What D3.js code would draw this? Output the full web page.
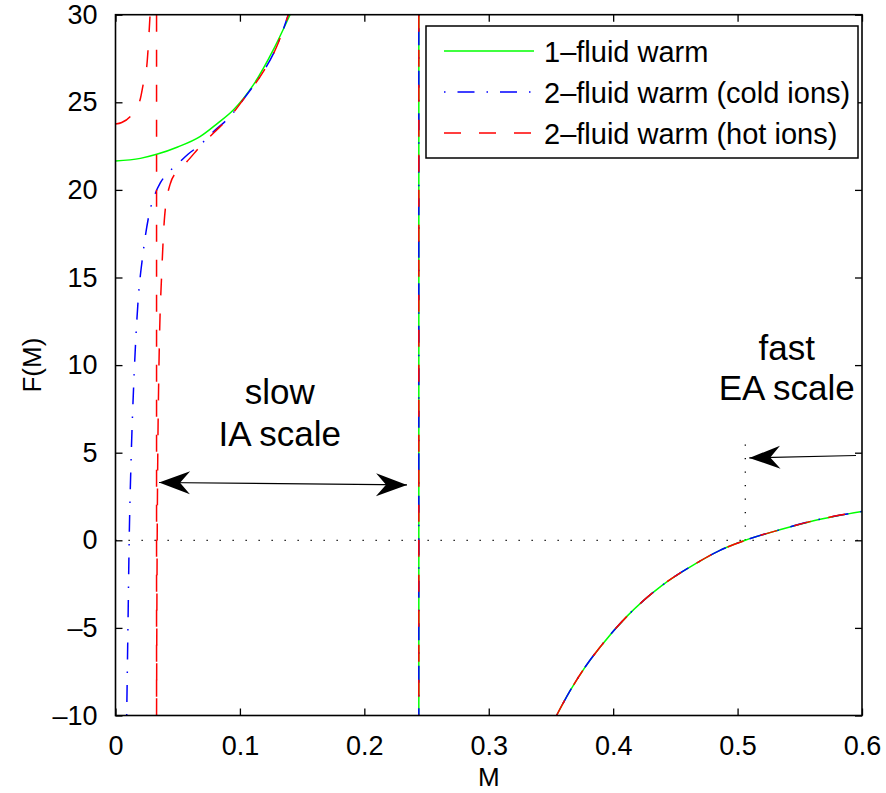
<!DOCTYPE html>
<html>
<head>
<meta charset="utf-8">
<script src="https://cdn.jsdelivr.net/npm/d3@7"></script>
<style>
body { margin: 0; background: #fff; }
text { font-family: "Liberation Sans", Arial, Helvetica, sans-serif; fill: #000; }
</style>
</head>
<body>
<div id="chart"></div>
<script>
// Axis ticks
const mTicks = [0, 0.1, 0.2, 0.3, 0.4, 0.5, 0.6];
const fTicks = [-10, -5, 0, 5, 10, 15, 20, 25, 30];

// 1-fluid warm, slow branch (M, F)
const oneFluidSlow = [[0, 21.65], [0.02, 21.8], [0.0331, 22.03], [0.05, 22.45], [0.0679, 23.04],
    [0.082, 23.8], [0.0947, 24.56], [0.1108, 25.99], [0.1268, 27.99], [0.1403, 30]];

// 2-fluid warm, cold ions, slow branch
const coldSlow = [[0.009, -10], [0.010, -5], [0.011, 0], [0.0125, 4.5], [0.015, 9.5], [0.018, 13.5],
    [0.022, 16.3], [0.027, 18.6], [0.032, 19.8], [0.036, 20.4], [0.0424, 20.98], [0.0505, 21.52],
    [0.0585, 22.05], [0.0679, 22.56], [0.0786, 23.32], [0.092, 24.18], [0.1054, 25.42],
    [0.1188, 26.75], [0.1295, 28.17], [0.1389, 30]];

// 2-fluid warm, hot ions: branch left of its pole, then slow branch
const hotLeft = [[0, 23.76], [0.005, 23.85], [0.0117, 24.18], [0.0197, 25.13], [0.0224, 26.08],
    [0.0251, 27.03], [0.0277, 29.9]];
const hotSlow = [[0.033, -10], [0.0332, -5], [0.0335, 0], [0.034, 5], [0.0347, 9], [0.0355, 12],
    [0.037, 15], [0.0395, 18.5], [0.0438, 20.3], [0.05, 21.1], [0.0572, 21.6], [0.0679, 22.47],
    [0.0786, 23.23], [0.092, 24.18], [0.1054, 25.42], [0.1188, 26.75], [0.1295, 28.17], [0.1389, 30]];

// poles (vertical jumps) and the common fast branch
const hotPole = [[0.033, 30], [0.033, -10]];
const slowPole = [[0.2438, 30], [0.2438, -10]];
const fastBranch = [[0.3545, -10], [0.3653, -8.6], [0.3773, -7.25], [0.3894, -6.1], [0.4116, -4.3],
    [0.4388, -2.6], [0.4659, -1.35], [0.485, -0.6], [0.5062, 0], [0.5339, 0.6], [0.5611, 1.12],
    [0.6, 1.65]];

const legendLabels = ["1\u2013fluid warm", "2\u2013fluid warm (cold ions)", "2\u2013fluid warm (hot ions)"];

// Set up dimensions and margins
const W = 886, H = 793;
const margin = {top: 14.7, right: 24, bottom: 77.5, left: 115.5};
const width = W - margin.left - margin.right;
const height = H - margin.top - margin.bottom;

const svg = d3.select("#chart")
    .append("svg")
    .attr("width", W)
    .attr("height", H);

const g = svg.append("g")
    .attr("transform", `translate(${margin.left},${margin.top})`);

const x = d3.scaleLinear().domain([0, 0.6]).range([0, width]);
const y = d3.scaleLinear().domain([-10, 30]).range([height, 0]);

g.append("clipPath").attr("id", "clip")
    .append("rect").attr("width", width).attr("height", height);

const line = d3.line().x(d => x(d[0])).y(d => y(d[1])).curve(d3.curveMonotoneX);
const straight = d3.line().x(d => x(d[0])).y(d => y(d[1]));

// dotted reference lines
g.append("line")
    .attr("x1", 0).attr("x2", width)
    .attr("y1", y(0)).attr("y2", y(0))
    .attr("stroke", "#000").attr("stroke-width", 1.3)
    .attr("stroke-dasharray", "1.3,11.7");
g.append("line")
    .attr("x1", x(0.5062)).attr("x2", x(0.5062))
    .attr("y1", y(0)).attr("y2", y(6))
    .attr("stroke", "#000").attr("stroke-width", 1.3)
    .attr("stroke-dasharray", "1.3,12.2");

const styles = [
    {color: "#00ff00", dash: null},
    {color: "#0000ff", dash: "1.5,12,17,12"},
    {color: "#ff0000", dash: "17,18"}
];

const series = [
    {style: styles[0], curves: [oneFluidSlow, fastBranch], poles: [slowPole]},
    {style: styles[1], curves: [coldSlow, fastBranch], poles: [slowPole]},
    {style: styles[2], curves: [hotLeft, hotSlow, fastBranch], poles: [hotPole, slowPole]}
];

const plot = g.append("g").attr("clip-path", "url(#clip)");

series.forEach(s => {
    s.curves.forEach(c => {
        plot.append("path")
            .attr("d", line(c))
            .attr("fill", "none")
            .attr("stroke", s.style.color)
            .attr("stroke-width", 1.5)
            .attr("stroke-dasharray", s.style.dash);
    });
    s.poles.forEach(p => {
        plot.append("path")
            .attr("d", straight(p))
            .attr("fill", "none")
            .attr("stroke", s.style.color)
            .attr("stroke-width", 1.5)
            .attr("stroke-dasharray", s.style.dash);
    });
});

// Axes (box with inward ticks)
const tickLen = 7;
const axisB = g.append("g").attr("transform", `translate(0,${height})`)
    .call(d3.axisBottom(x).tickValues(mTicks).tickSizeInner(-tickLen).tickSizeOuter(0)
        .tickFormat(d => d === 0 ? "0" : d3.format(".1f")(d)).tickPadding(20));
const axisT = g.append("g")
    .call(d3.axisTop(x).tickValues(mTicks).tickSizeInner(-tickLen).tickSizeOuter(0).tickFormat(""));
const axisL = g.append("g")
    .call(d3.axisLeft(y).tickValues(fTicks).tickSizeInner(-tickLen).tickSizeOuter(0)
        .tickFormat(d => d < 0 ? "\u2013" + Math.abs(d) : d).tickPadding(18));
const axisR = g.append("g").attr("transform", `translate(${width},0)`)
    .call(d3.axisRight(y).tickValues(fTicks).tickSizeInner(-tickLen).tickSizeOuter(0).tickFormat(""));

[axisB, axisT, axisL, axisR].forEach(a => {
    a.select(".domain").remove();
    a.selectAll(".tick line").attr("stroke", "#000").attr("stroke-width", 1.3);
    a.selectAll("text").attr("font-size", 27).attr("font-family", "Liberation Sans, Arial, sans-serif");
});
axisB.selectAll("text").attr("dy", "0.71em");

g.append("rect")
    .attr("width", width).attr("height", height)
    .attr("fill", "none").attr("stroke", "#000").attr("stroke-width", 1.6);

// Axis labels
g.append("text")
    .attr("x", width / 2).attr("y", height + 71)
    .attr("text-anchor", "middle").attr("font-size", 26)
    .text("M");
g.append("text")
    .attr("transform", "rotate(-90)")
    .attr("x", -height / 2).attr("y", 41 - margin.left)
    .attr("text-anchor", "middle").attr("font-size", 26)
    .text("F(M)");

// Annotations
function arrowHead(sel, tip, from) {
    const a = Math.atan2(tip[1] - from[1], tip[0] - from[0]) * 180 / Math.PI;
    sel.append("path")
        .attr("d", "M0,0 L-31,-11.5 L-21,0 L-31,11.5 Z")
        .attr("transform", `translate(${tip[0]},${tip[1]}) rotate(${a})`)
        .attr("fill", "#000");
}
const ann = g.append("g");
const pA = [x(0.035), y(3.3)], pB = [x(0.2343), y(3.16)];
ann.append("line").attr("x1", pA[0]).attr("y1", pA[1]).attr("x2", pB[0]).attr("y2", pB[1])
    .attr("stroke", "#000").attr("stroke-width", 1.2);
arrowHead(ann, pA, pB);
arrowHead(ann, pB, pA);

const pC = [x(0.5952), y(4.84)], pD = [x(0.5094), y(4.7)];
ann.append("line").attr("x1", pC[0]).attr("y1", pC[1]).attr("x2", pD[0]).attr("y2", pD[1])
    .attr("stroke", "#000").attr("stroke-width", 1.2);
arrowHead(ann, pD, pC);

const slowText = ann.append("text").attr("text-anchor", "middle").attr("font-size", 35);
slowText.append("tspan").attr("x", x(0.132)).attr("y", y(7.8)).text("slow");
slowText.append("tspan").attr("x", x(0.132)).attr("y", y(5.4)).text("IA scale");

const fastText = ann.append("text").attr("text-anchor", "middle").attr("font-size", 35);
fastText.append("tspan").attr("x", x(0.5395)).attr("y", y(10.3)).text("fast");
fastText.append("tspan").attr("x", x(0.5395)).attr("y", y(8.0)).text("EA scale");

// Legend
const legend = svg.append("g").attr("transform", "translate(426,26)");
legend.append("rect")
    .attr("width", 432).attr("height", 132)
    .attr("fill", "#fff").attr("stroke", "#000").attr("stroke-width", 1.5);

legendLabels.forEach((label, i) => {
    const row = legend.append("g").attr("transform", `translate(0,${25 + i * 41})`);
    row.append("line")
        .attr("x1", 18).attr("x2", 108)
        .attr("stroke", styles[i].color).attr("stroke-width", 1.5)
        .attr("stroke-dasharray", styles[i].dash);
    row.append("text")
        .attr("x", 118).attr("y", 10.5)
        .attr("font-size", 29)
        .text(label);
});
</script>
</body>
</html>
